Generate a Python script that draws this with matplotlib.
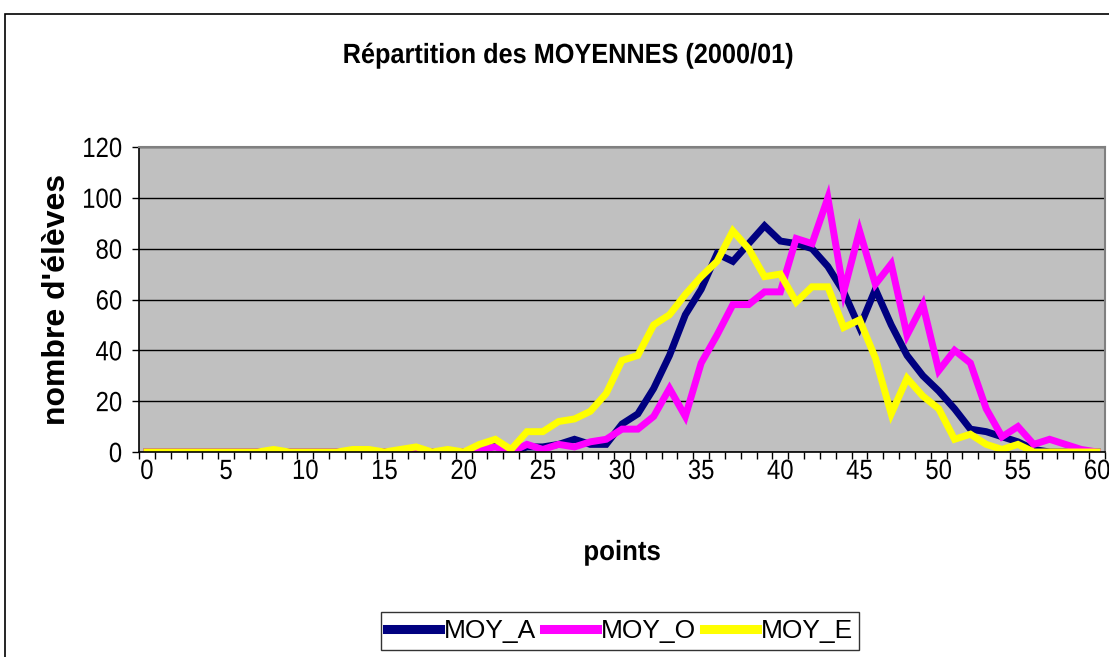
import numpy as np
import matplotlib
matplotlib.use('Agg')
import matplotlib.pyplot as plt
from matplotlib.patches import Rectangle
from matplotlib.patheffects import AbstractPathEffect
from matplotlib.transforms import Affine2D
from matplotlib.ticker import FixedLocator

plt.rcParams['font.family'] = ['Liberation Sans', 'DejaVu Sans']

# ── Data: number of pupils per average score (0..60 points) ──
points = list(range(61))
moy_a = [0] * 22 + [3, 0, 2, 2, 3, 5, 3, 3, 11, 15, 25, 38, 54, 64, 78, 75, 82, 89,
                    83, 82, 80, 73, 63, 49, 64, 50, 38, 30, 24, 17, 9, 8, 6, 4, 1, 0, 0, 0, 0]
moy_o = [0] * 21 + [1, 2, 0, 3, 1, 3, 2, 4, 5, 9, 9, 14, 25, 14, 35, 46, 58, 58, 63, 63,
                    84, 82, 100, 63, 87, 66, 74, 46, 58, 32, 40, 35, 17, 6, 10, 3, 5, 3, 1, 0]
moy_e = [0, 0, 0, 0, 0, 0, 0, 0, 1, 0, 0, 0, 0, 1, 1, 0, 1, 2, 0, 1, 0, 3, 5, 1, 8, 8,
         12, 13, 16, 23, 36, 38, 50, 54, 62, 69, 75, 87, 80, 69, 70, 59, 65, 65, 49, 52,
         37, 15, 29, 22, 17, 5, 7, 3, 1, 3, 0, 0, 0, 0, 0]
series = [('MOY_A', moy_a, '#000080'), ('MOY_O', moy_o, '#FF00FF'), ('MOY_E', moy_e, '#FFFF00')]


class Squeeze(AbstractPathEffect):
    """Compress a text path horizontally (the old Excel export looks condensed)."""
    def __init__(self, sx, anchor='center'):
        super().__init__()
        self.sx = sx
        self.anchor = anchor

    def draw_path(self, renderer, gc, tpath, affine, rgbFace=None):
        ext = tpath.get_extents()
        cx = {'left': ext.x0, 'right': ext.x1}.get(self.anchor, (ext.x0 + ext.x1) / 2)
        t = Affine2D().translate(-cx, 0).scale(self.sx, 1).translate(cx, 0) + affine
        renderer.draw_path(gc, tpath, t, rgbFace)


W, H = 1109, 657
fig = plt.figure(figsize=(W / 100, H / 100), dpi=100)
fig.patch.set_facecolor('white')

# chart-area border
fig.patches.append(Rectangle((5 / W, -0.1), 1.2, 1.1 - 14 / H, transform=fig.transFigure,
                             fill=False, edgecolor='black', linewidth=1.2))

ax = fig.add_axes([139 / W, 1 - 452 / H, 966 / W, 305 / H])
ax.set_facecolor('#C0C0C0')

for name, vals, col in series:
    ax.plot(points, vals, color=col, lw=5, label=name, solid_joinstyle='miter')

ax.set_xlim(-0.5, 60.5)
ax.set_ylim(0, 120)
ax.set_yticks(range(0, 121, 20))
ax.yaxis.grid(True, color='black', lw=1)
ax.set_axisbelow(True)

ax.set_xticks(range(0, 61, 5))
ax.xaxis.set_minor_locator(FixedLocator(np.arange(-0.5, 61, 1)))
ax.tick_params(axis='x', which='major', length=0, pad=5, labelsize=20)
ax.tick_params(axis='x', which='minor', length=5, width=1, direction='out')
ax.tick_params(axis='y', length=5, width=1, pad=7, labelsize=20)
for lbl in ax.get_xticklabels():
    lbl.set_path_effects([Squeeze(0.86, 'center')])
for lbl in ax.get_yticklabels():
    lbl.set_path_effects([Squeeze(0.86, 'right')])

for s in ['top', 'right']:
    ax.spines[s].set_color('#808080')
    ax.spines[s].set_linewidth(1.5)
for s in ['left', 'bottom']:
    ax.spines[s].set_color('black')
    ax.spines[s].set_linewidth(1.2)

ax.set_ylabel("nombre d'élèves", fontsize=23, fontweight='bold', va='center')
ax.yaxis.set_label_coords((57 - 139) / 966, 0.5)
ax.set_xlabel('points', fontsize=20, fontweight='bold', va='center',
              path_effects=[Squeeze(0.93)])
ax.xaxis.set_label_coords(0.5, (452 - 553) / 305)

fig.text(568 / W, 1 - 63 / H, 'Répartition des MOYENNES (2000/01)', ha='center', va='baseline',
         fontsize=20, fontweight='bold', path_effects=[Squeeze(0.91)])

leg = fig.legend(loc='center', bbox_to_anchor=(620 / W, 1 - 631 / H), ncol=3, fontsize=19,
                 frameon=True, fancybox=False, edgecolor='black', handlelength=2.0,
                 handletextpad=0.15, columnspacing=0.3, borderpad=0.25, borderaxespad=0)
leg.get_frame().set_linewidth(1)
for h in leg.legend_handles:
    h.set_linewidth(6.5)

fig.savefig('out.png', dpi=100, facecolor='white')
